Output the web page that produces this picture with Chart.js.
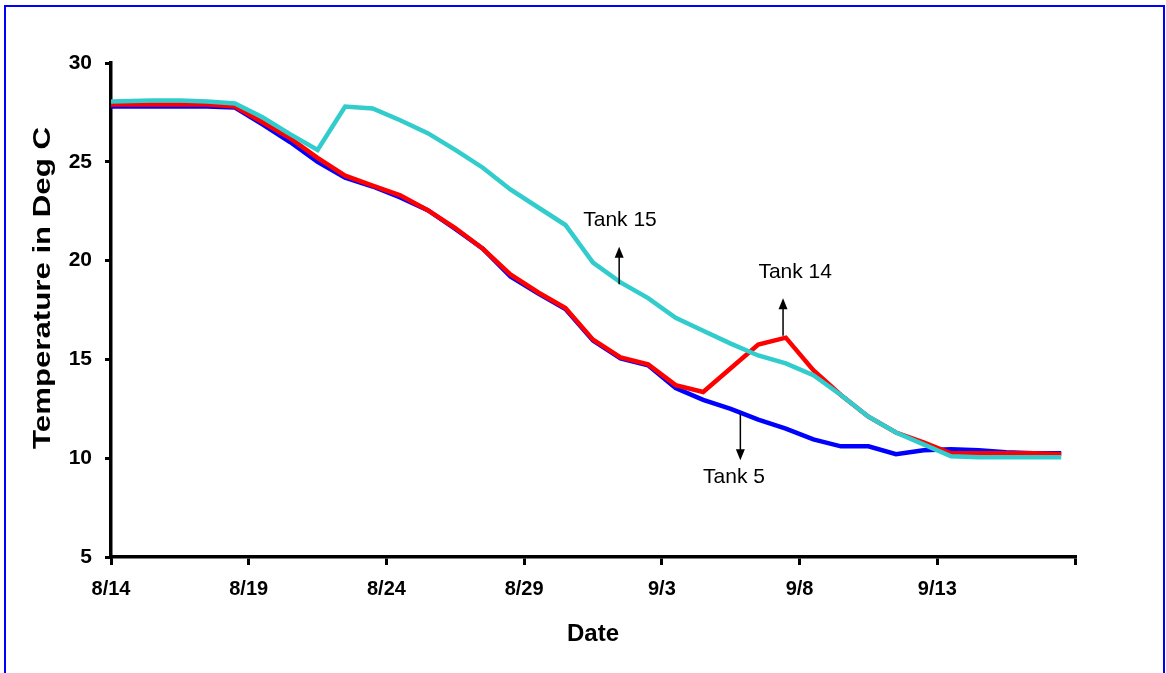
<!DOCTYPE html>
<html>
<head>
<meta charset="utf-8">
<title>Tank temperatures</title>
<script src="https://cdn.jsdelivr.net/npm/chart.js@4"></script>
<style>
    body { margin: 0; background: #fff; overflow: hidden; }
    #wrap { position: relative; width: 1166px; height: 673px; }
    #frame { position: absolute; left: 4px; top: 5px; width: 1157px; height: 700px; border: 2px solid #0000ff; pointer-events: none; }
    canvas { position: absolute; left: 0; top: 0; }
</style>
</head>
<body>
<div id="wrap">
    <canvas id="tempChart" width="1166" height="673"></canvas>
    <div id="frame"></div>
</div>
<script>
// days after 8/14 for each reading
const days = [0, 1.5, 2.5, 3.5, 4.5, 5.5, 6.5, 7.5, 8.5, 9.5, 10.5, 11.5, 12.5, 13.5, 14.5, 15.5, 16.5,
    17.5, 18.5, 19.5, 20.5, 21.5, 22.5, 23.5, 24.5, 25.5, 26.5, 27.5, 28.5, 29.5, 30.5, 31.5, 32.5, 33.5, 34.5];

const tank15 = [28.05, 28.1, 28.1, 28.05, 27.95, 27.25, 26.4, 25.6, 27.8, 27.7, 27.1, 26.45, 25.6, 24.7, 23.6, 22.7, 21.8,
    19.9, 18.9, 18.1, 17.1, 16.45, 15.8, 15.2, 14.8, 14.2, 13.2, 12.1, 11.3, 10.7, 10.1, 10.05, 10.05, 10.05, 10.05];
const tank14 = [27.9, 27.9, 27.9, 27.9, 27.8, 27.0, 26.2, 25.2, 24.3, 23.8, 23.3, 22.55, 21.65, 20.6, 19.3, 18.4, 17.6,
    16.0, 15.1, 14.75, 13.7, 13.35, 14.55, 15.75, 16.1, 14.45, 13.2, 12.1, 11.3, 10.8, 10.25, 10.25, 10.25, 10.25, 10.2];
const tank5 = [27.8, 27.8, 27.8, 27.8, 27.75, 26.9, 26.0, 25.0, 24.2, 23.75, 23.2, 22.55, 21.6, 20.6, 19.2, 18.35, 17.55,
    15.95, 15.05, 14.7, 13.55, 12.95, 12.5, 11.95, 11.5, 10.95, 10.6, 10.6, 10.2, 10.4, 10.45, 10.4, 10.3, 10.25, 10.25];

const dateLabels = ['8/14', '8/19', '8/24', '8/29', '9/3', '9/8', '9/13', ''];
const yTitle = 'Temperature in Deg C';

// callouts: label, text position, arrow start -> end (all in data units)
const noteText = ['Tank 15', 'Tank 14', 'Tank 5'];
const noteX = [18.48, 24.84, 22.62];
const noteY = [22.05, 19.4, 9.05];
const arrowX = [18.45, 24.4, 22.85];
const arrowFrom = [18.8, 16.2, 12.25];
const arrowTo = [20.7, 18.1, 9.9];

function points(values) {
    return values.map((v, i) => ({ x: days[i], y: v }));
}

const calloutPlugin = {
    id: 'callouts',
    afterDatasetsDraw(chart) {
        const ctx = chart.ctx;
        const xs = chart.scales.x;
        const ys = chart.scales.y;
        ctx.save();
        ctx.strokeStyle = '#000';
        ctx.fillStyle = '#000';
        ctx.lineWidth = 1.5;
        noteText.forEach((txt, i) => {
            const ax = xs.getPixelForValue(arrowX[i]);
            const y0 = ys.getPixelForValue(arrowFrom[i]);
            const y1 = ys.getPixelForValue(arrowTo[i]);
            const dir = y1 < y0 ? -1 : 1;
            ctx.beginPath();
            ctx.moveTo(ax, y0);
            ctx.lineTo(ax, y1 - dir * 9);
            ctx.stroke();
            ctx.beginPath();
            ctx.moveTo(ax, y1);
            ctx.lineTo(ax - 4.5, y1 - dir * 11);
            ctx.lineTo(ax + 4.5, y1 - dir * 11);
            ctx.closePath();
            ctx.fill();

            ctx.font = '21px "Liberation Sans", Arial, sans-serif';
            ctx.textAlign = 'center';
            ctx.textBaseline = 'middle';
            ctx.fillText(txt, xs.getPixelForValue(noteX[i]), ys.getPixelForValue(noteY[i]));
        });

        // y axis title, drawn a bit stretched like the original export
        ctx.font = 'bold 24px "Liberation Sans", Arial, sans-serif';
        ctx.translate(43, (chart.chartArea.top + chart.chartArea.bottom) / 2 - 22);
        ctx.rotate(-Math.PI / 2);
        ctx.scale(1.3, 1);
        ctx.fillText(yTitle, 0, 0);
        ctx.restore();
    }
};

function init() {
    const ctx = document.getElementById('tempChart').getContext('2d');
    new Chart(ctx, {
        type: 'line',
        data: {
            datasets: [
                { label: 'Tank 15', data: points(tank15), borderColor: '#33cccc' },
                { label: 'Tank 14', data: points(tank14), borderColor: '#ff0000' },
                { label: 'Tank 5', data: points(tank5), borderColor: '#0000ff' }
            ]
        },
        options: {
            responsive: false,
            animation: false,
            layout: { padding: { top: 63, right: 91, left: 0, bottom: 0 } },
            elements: {
                line: { borderWidth: 4.5, tension: 0, fill: false },
                point: { radius: 0 }
            },
            plugins: {
                legend: { display: false },
                tooltip: { enabled: false }
            },
            scales: {
                x: {
                    type: 'linear',
                    min: 0,
                    max: 35,
                    afterFit(scale) { scale.height = 116; },
                    border: { display: true, color: '#000', width: 3.5 },
                    grid: { drawOnChartArea: false, drawTicks: true, tickLength: 8, color: '#000', lineWidth: 3 },
                    ticks: {
                        stepSize: 5,
                        padding: 12,
                        color: '#000',
                        maxRotation: 0,
                        font: { family: '"Liberation Sans", Arial, sans-serif', size: 20, weight: 'bold' },
                        callback: (v) => dateLabels[Math.round(v / 5)]
                    },
                    title: {
                        display: true,
                        text: 'Date',
                        color: '#000',
                        padding: { top: 0, bottom: 24 },
                        font: { family: '"Liberation Sans", Arial, sans-serif', size: 24, weight: 'bold' }
                    }
                },
                y: {
                    min: 5,
                    max: 30,
                    afterFit(scale) { scale.width = 111; },
                    border: { display: true, color: '#000', width: 3.5 },
                    grid: { drawOnChartArea: false, drawTicks: true, tickLength: 6, color: '#000', lineWidth: 3 },
                    ticks: {
                        stepSize: 5,
                        padding: 13,
                        color: '#000',
                        font: { family: '"Liberation Sans", Arial, sans-serif', size: 21, weight: 'bold' }
                    },
                    title: { display: false }
                }
            }
        },
        plugins: [calloutPlugin]
    });
}

window.onload = init;
</script>
</body>
</html>
